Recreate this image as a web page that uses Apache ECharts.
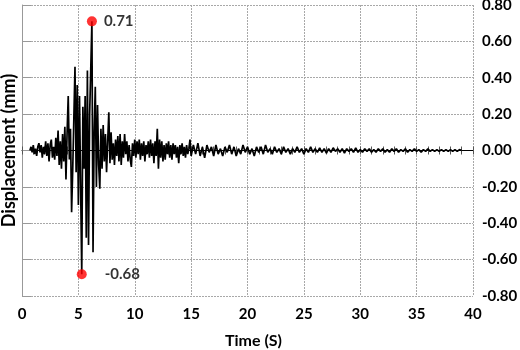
<!DOCTYPE html>
<html>
<head>
<meta charset="utf-8">
<script src="https://cdn.jsdelivr.net/npm/echarts@6/dist/echarts.min.js"></script>
<style>
html,body{margin:0;padding:0;background:#fff;}
#chart{width:520px;height:350px;}
</style>
</head>
<body>
<div id="chart"></div>
<script>
// Time axis ticks (s) and displacement ticks (mm)
var xTicks = [0, 5, 10, 15, 20, 25, 30, 35, 40];
var yTicks = [-0.8, -0.6, -0.4, -0.2, 0, 0.2, 0.4, 0.6, 0.8];

// Strong-motion part: sampled every 0.1 s starting at 0.7 s
var burstStart = 0.7;
var burstStep = 0.1;
var burstDisp = [
  0.00, 0.02, -0.01, 0.03, -0.02, 0.01, -0.03, 0.02, 0.04, -0.01,
  0.03, -0.04, 0.02, -0.02, 0.05, -0.03, 0.04, -0.06, 0.03, 0.06,
  -0.04, 0.02, -0.05, 0.07, -0.03, 0.11, -0.08, 0.05, -0.10, 0.09,
  -0.06, 0.13, -0.16, 0.10, 0.30, -0.05, 0.12, -0.34, -0.10, 0.18,
  0.46, -0.12, 0.36, -0.30, 0.30, -0.20, -0.68, 0.24, -0.10, 0.30,
  -0.48, 0.44, -0.52, 0.20, 0.45, 0.71, -0.56, 0.10, 0.35, -0.20,
  0.25, -0.08, -0.21, 0.12, -0.10, 0.14, -0.06, 0.09, -0.12, 0.05,
  0.21, -0.07, 0.10, -0.05, 0.04, -0.08, 0.06, -0.03, 0.08, -0.06,
  0.09, -0.08, 0.05, -0.04, 0.09, -0.02, 0.05, -0.06, 0.03, -0.05,
  -0.09, 0.04, -0.03, 0.06, -0.04, 0.05, -0.02, 0.06, -0.05, 0.04,
  -0.03, 0.05, -0.06, 0.03, -0.02, 0.05, -0.04, 0.06, -0.03, 0.04,
  -0.07, 0.05, -0.03, 0.12, -0.10, 0.06, -0.04, 0.05, -0.06, 0.03,
  -0.05, 0.04, -0.02, 0.05, -0.04, 0.03, -0.05, 0.04, -0.02, 0.03,
  -0.04, 0.02, -0.07, 0.03, -0.02, 0.04, -0.03, 0.02, -0.04, 0.03,
  -0.02, 0.01, 0.06, -0.03
];

// Free-vibration tail: sampled every 0.2 s starting at 15.2 s
var tailStart = 15.2;
var tailStep = 0.2;
var tailDisp = [
  0.03, -0.02, 0.04, -0.03, 0.02, -0.04, 0.03, -0.01, 0.02, -0.03,
  0.03, -0.02, 0.01, -0.03, 0.02, -0.01, 0.03, -0.02, 0.02, -0.03,
  0.01, -0.02, 0.03, -0.01, 0.02, -0.02, 0.01, -0.03, 0.02, -0.01,
  0.02, -0.02, 0.03, -0.01, 0.01, -0.02, 0.02, -0.01, 0.01, -0.02,
  0.02, -0.01, 0.01, -0.02, 0.01, -0.01, 0.02, -0.01, 0.01, -0.02,
  0.01, -0.01, 0.02, -0.01, 0.01, -0.01, 0.015, -0.01, 0.01, -0.015,
  0.01, -0.01, 0.015, -0.005, 0.01, -0.01, 0.01, -0.015, 0.01, -0.005,
  0.01, -0.01, 0.015, -0.01, 0.005, -0.01, 0.01, -0.005, 0.01, -0.01,
  0.005, -0.01, 0.01, -0.005, 0.01, -0.01, 0.005, -0.01, 0.01, -0.005,
  0.01, -0.01, 0.005, -0.005, 0.01, -0.01, 0.005, -0.005, 0.01, -0.005,
  0.005, -0.01, 0.005, -0.005, 0.01, -0.005, 0.005, -0.005, 0.005, -0.005,
  0.005, -0.005, 0.005, -0.005, 0.005, -0.005, 0.005, -0.005, 0.005, 0.0
];

// Peak values marked in red
var peakTimes = [6.2, 5.3];
var peakValues = [0.71, -0.68];

var series = [];
burstDisp.forEach(function (v, i) {
  series.push([+(burstStart + i * burstStep).toFixed(2), v]);
});
tailDisp.forEach(function (v, i) {
  series.push([+(tailStart + i * tailStep).toFixed(2), v]);
});

var labelDist = [7, 18];
var peaks = peakTimes.map(function (t, i) {
  return {
    value: [t, peakValues[i]],
    label: { distance: labelDist[i] }
  };
});

var FONT = 'Lato';
var gridLine = { show: true, lineStyle: { color: '#a8a8a8', width: 1, type: [2, 1] } };

var chart = echarts.init(document.getElementById('chart'), null, { renderer: 'canvas' });
chart.setOption({
  animation: false,
  backgroundColor: '#fff',
  grid: { left: 22, right: 47, top: 5, bottom: 54, containLabel: false, outerBoundsMode: 'none' },
  xAxis: [
    {
      type: 'value', min: xTicks[0], max: xTicks[xTicks.length - 1], interval: 5,
      position: 'bottom',
      axisLine: { show: false, onZero: false },
      axisTick: { show: false },
      axisLabel: { show: true, margin: 11, fontSize: 15, fontWeight: 'bold', color: '#000', fontFamily: FONT },
      splitLine: gridLine,
      name: 'Time (S)', nameLocation: 'middle', nameGap: 37,
      nameTextStyle: { fontSize: 16, fontWeight: 'bold', color: '#000', fontFamily: FONT, padding: [0, 0, 0, 12] }
    },
    {
      type: 'value', min: xTicks[0], max: xTicks[xTicks.length - 1], interval: 1,
      position: 'bottom',
      axisLine: { show: true, onZero: true, onZeroAxisIndex: 0, lineStyle: { color: '#000', width: 1 } },
      axisTick: { show: true, length: 4, lineStyle: { color: '#555', width: 1 } },
      axisLabel: { show: false },
      splitLine: { show: false }
    },
    {
      type: 'value', min: xTicks[0], max: xTicks[xTicks.length - 1], interval: 1,
      position: 'top',
      axisLine: { show: false, onZero: true, onZeroAxisIndex: 0 },
      axisTick: { show: true, length: 4, lineStyle: { color: '#555', width: 1 } },
      axisLabel: { show: false },
      splitLine: { show: false }
    }
  ],
  yAxis: [
    {
      type: 'value', min: yTicks[0], max: yTicks[yTicks.length - 1], interval: 0.2,
      position: 'left',
      axisLine: { show: true, onZero: false, lineStyle: { color: '#999', width: 1 } },
      axisTick: { show: true, inside: true, length: 9, lineStyle: { color: '#999', width: 1 } },
      axisLabel: { show: false },
      splitLine: gridLine,
      name: 'Displacement (mm)', nameLocation: 'middle', nameGap: 4,
      nameTextStyle: { fontSize: 18, fontWeight: 'bold', color: '#000', fontFamily: FONT, padding: [0, 0, 0, 0] }
    },
    {
      type: 'value', min: yTicks[0], max: yTicks[yTicks.length - 1], interval: 0.2,
      position: 'right',
      axisLine: { show: false, onZero: false },
      axisTick: { show: false },
      axisLabel: {
        show: true, margin: 9, fontSize: 15, fontWeight: 'bold', color: '#000', fontFamily: FONT,
        formatter: function (v) { return v.toFixed(2); }
      },
      splitLine: { show: false }
    }
  ],
  series: [
    {
      type: 'line', xAxisIndex: 0, yAxisIndex: 0, data: series,
      showSymbol: false, symbol: 'none',
      lineStyle: { color: '#000', width: 1.7 },
      z: 3
    },
    {
      type: 'scatter', xAxisIndex: 0, yAxisIndex: 0, data: peaks,
      symbol: 'circle', symbolSize: 10,
      itemStyle: { color: '#ff0000' },
      label: {
        show: true, position: 'right', fontSize: 15, fontWeight: 'bold', color: '#000', fontFamily: FONT,
        formatter: function (p) { return p.value[1].toFixed(2); }
      },
      z: 5
    }
  ]
});
</script>
</body>
</html>
